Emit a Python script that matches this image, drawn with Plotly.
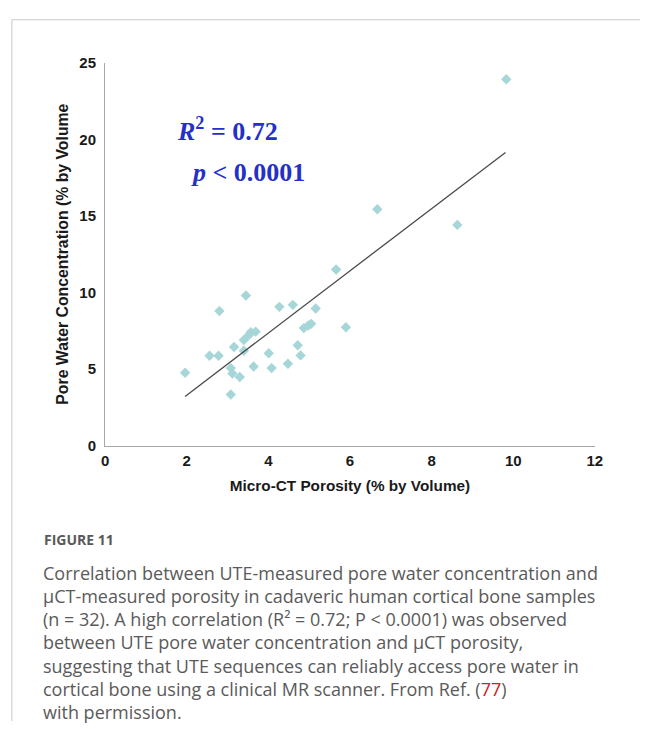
import plotly.graph_objects as go

W, H = 648, 729

# Data
porosity = [1.96, 2.80, 3.45, 2.56, 2.78, 3.16, 3.40, 3.40, 3.57, 3.69, 3.52,
            3.08, 3.12, 3.30, 3.08, 3.64, 4.01, 4.08, 4.27, 4.60, 4.48, 4.72,
            4.79, 5.16, 4.87, 4.98, 5.05, 5.66, 5.90, 6.67, 8.63, 9.83]
pore_water = [4.76, 8.78, 9.80, 5.87, 5.87, 6.44, 6.89, 6.19, 7.40, 7.44, 7.21,
              5.06, 4.70, 4.48, 3.34, 5.16, 6.03, 5.06, 9.06, 9.19, 5.34, 6.55,
              5.89, 8.95, 7.67, 7.84, 7.95, 11.50, 7.73, 15.43, 14.41, 23.92]
fit_slope = 2.03
fit_intercept = -0.77
fit_x_range = [1.96, 9.81]

x_ticks = [0, 2, 4, 6, 8, 10, 12]
y_ticks = [0, 5, 10, 15, 20, 25]

caption_lines = [
    "Correlation between UTE-measured pore water concentration and",
    "\u03bcCT-measured porosity in cadaveric human cortical bone samples",
    "(n = 32). A high correlation (R\u00b2 = 0.72; P < 0.0001) was observed",
    "between UTE pore water concentration and \u03bcCT porosity,",
    "suggesting that UTE sequences can reliably access pore water in",
    "cortical bone using a clinical MR scanner. From Ref. (<span style='color:#d42020'>77</span>)",
    "with permission.",
]

fit_y = [fit_slope * x + fit_intercept for x in fit_x_range]

fig = go.Figure()
fig.add_trace(go.Scatter(
    x=porosity, y=pore_water, mode="markers",
    marker=dict(symbol="diamond", size=8, color="#a6d6d7", line=dict(width=0)),
    showlegend=False,
))
fig.add_trace(go.Scatter(
    x=fit_x_range, y=fit_y, mode="lines",
    line=dict(color="#4a4a4a", width=1.3), showlegend=False,
))

axis_font = dict(family="Liberation Sans, Arial", size=15, color="#1a1a1a")
fig.update_xaxes(
    range=[0, 12], tickvals=x_ticks, ticktext=[f"<b>{v}</b>" for v in x_ticks],
    showline=True, linecolor="#a8a8a8", linewidth=1.2, showgrid=False, zeroline=False,
    ticks="", ticklabelstandoff=1, tickfont=axis_font,
    title=dict(text="<b>Micro-CT Porosity (% by Volume)</b>",
               font=dict(family="Liberation Sans, Arial", size=15.3, color="#1a1a1a"),
               standoff=12),
    domain=[103 / W, 602 / W],
)
fig.update_yaxes(
    range=[0, 25], tickvals=y_ticks, ticktext=[f"<b>{v}</b>" for v in y_ticks],
    showline=True, linecolor="#a8a8a8", linewidth=1.2, showgrid=False, zeroline=False,
    ticks="", ticklabelstandoff=5, tickfont=axis_font,
    title=dict(text="<b>Pore Water Concentration (% by Volume</b>",
               font=dict(family="Liberation Sans, Arial", size=15.8, color="#1a1a1a"),
               standoff=6),
    domain=[1 - 447 / H, 1 - 55 / H],
)

stat_font = dict(family="Liberation Serif, Times New Roman", size=26, color="#2430c8")
fig.add_annotation(x=1.71, y=20.65, xref="x", yref="y", xanchor="left", yanchor="middle",
                   text="<b><i>R</i><sup style='font-size:85%'>2</sup> = 0.72</b>",
                   showarrow=False, font=stat_font)
fig.add_annotation(x=2.06, y=17.83, xref="x", yref="y", xanchor="left", yanchor="middle",
                   text="<b><i>p</i> < 0.0001</b>", showarrow=False, font=stat_font)

fig.add_annotation(x=39 / W, y=1 - 543 / H, xref="paper", yref="paper", xanchor="left",
                   yanchor="middle", text="<b>FIGURE 11</b>", showarrow=False,
                   font=dict(family="Open Sans", size=14, color="#595959"))
for i, line in enumerate(caption_lines):
    fig.add_annotation(x=38 / W, y=1 - (577 + 23.8 * i) / H, xref="paper", yref="paper",
                       xanchor="left", yanchor="middle", text=line, showarrow=False,
                       height=22, font=dict(family="Open Sans", size=18, color="#5a5a5a"))

border = dict(color="#c8c8c8", width=1)
fig.add_shape(type="line", xref="paper", yref="paper", x0=8 / W, x1=1, y0=1 - 11 / H, y1=1 - 11 / H, line=border)
fig.add_shape(type="line", xref="paper", yref="paper", x0=8 / W, x1=8 / W, y0=1 - 11 / H, y1=0, line=border)

fig.update_layout(
    width=W, height=H, margin=dict(l=0, r=0, t=0, b=0),
    paper_bgcolor="white", plot_bgcolor="white",
)
fig.write_html("out.html")
